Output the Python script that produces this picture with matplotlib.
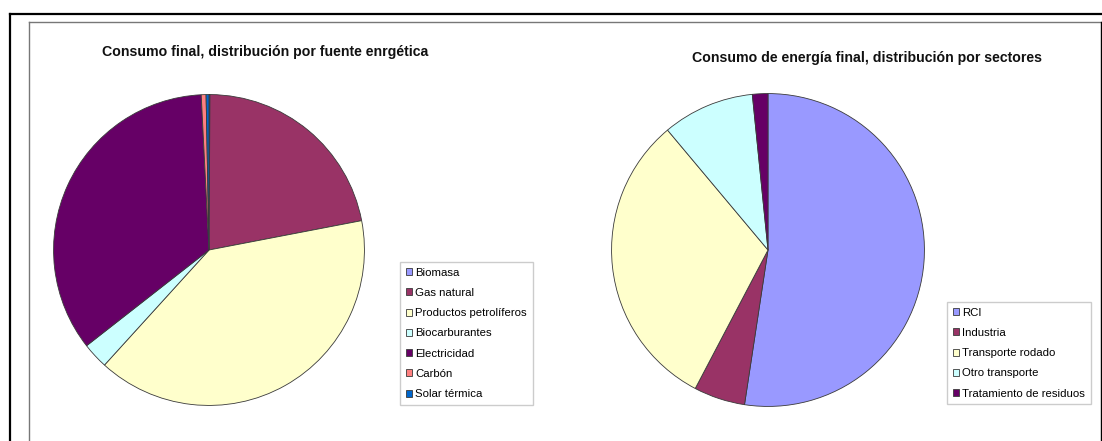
import matplotlib
matplotlib.use("Agg")
import matplotlib.pyplot as plt
from matplotlib.lines import Line2D

plt.rcParams['font.family'] = ['Liberation Sans', 'DejaVu Sans']

# consumo final por fuente energetica (%)
fuentes = ["Biomasa", "Gas natural", "Productos petrolíferos", "Biocarburantes",
           "Electricidad", "Carbón", "Solar térmica"]
valores_fuentes = [0.1, 21.9, 39.8, 2.7, 34.8, 0.5, 0.3]
colores_fuentes = ["#9999FF", "#993366", "#FFFFCC", "#CCFFFF", "#660066", "#FF8080", "#0066CC"]

# consumo por sectores (%)
sectores = ["RCI", "Industria", "Transporte rodado", "Otro transporte", "Tratamiento de residuos"]
valores_sectores = [52.4, 5.3, 31.2, 9.5, 1.6]
colores_sectores = ["#9999FF", "#993366", "#FFFFCC", "#CCFFFF", "#660066"]

W, H = 1102, 441
fig = plt.figure(figsize=(W / 100, H / 100), dpi=100)
fig.patch.set_facecolor("white")

def fx(x):
    return x / W

def fy(y):
    return 1 - y / H

# page frame lines (document screenshot)
fig.add_artist(Line2D([fx(10), fx(1102)], [fy(14), fy(14)], color="black", lw=1.6))
fig.add_artist(Line2D([fx(10), fx(10)], [fy(14), fy(441)], color="black", lw=1.6))
fig.add_artist(Line2D([fx(29), fx(1101)], [fy(22), fy(22)], color="#777777", lw=1.0))
fig.add_artist(Line2D([fx(29), fx(29)], [fy(22), fy(441)], color="#777777", lw=1.0))
fig.add_artist(Line2D([fx(1101), fx(1101)], [fy(22), fy(441)], color="black", lw=1.0))


def pie_panel(cx, cy, r, valores, colores, etiquetas, titulo, tpos, lpos):
    ax = fig.add_axes([fx(cx - r), fy(cy + r), 2 * r / W, 2 * r / H])
    wedges, _ = ax.pie(valores, colors=colores, startangle=90, counterclock=False,
                       wedgeprops=dict(edgecolor="#3a3a3a", linewidth=0.6))
    ax.set_xlim(-1.01, 1.01)
    ax.set_ylim(-1.01, 1.01)
    ax.axis("off")
    fig.text(fx(tpos[0]), fy(tpos[1]), titulo, ha="center", va="center",
             fontsize=10.2, fontweight="bold", color="#111111")
    leg = fig.legend(wedges, etiquetas, loc="upper left",
                     bbox_to_anchor=(fx(lpos[0]), fy(lpos[1])),
                     fontsize=8.2, frameon=True, fancybox=False,
                     handlelength=0.55, handleheight=0.55, handletextpad=0.3,
                     labelspacing=0.9, borderpad=0.5, borderaxespad=0)
    leg.get_frame().set_edgecolor("#c0c0c0")
    leg.get_frame().set_linewidth(1.0)
    return ax


pie_panel(209, 250, 157, valores_fuentes, colores_fuentes, fuentes,
          "Consumo final, distribución por fuente enrgética", (265, 52), (400, 262))
pie_panel(768, 250, 158, valores_sectores, colores_sectores, sectores,
          "Consumo de energía final, distribución por sectores", (867, 58), (947, 302))

fig.savefig("out.png", dpi=100)
